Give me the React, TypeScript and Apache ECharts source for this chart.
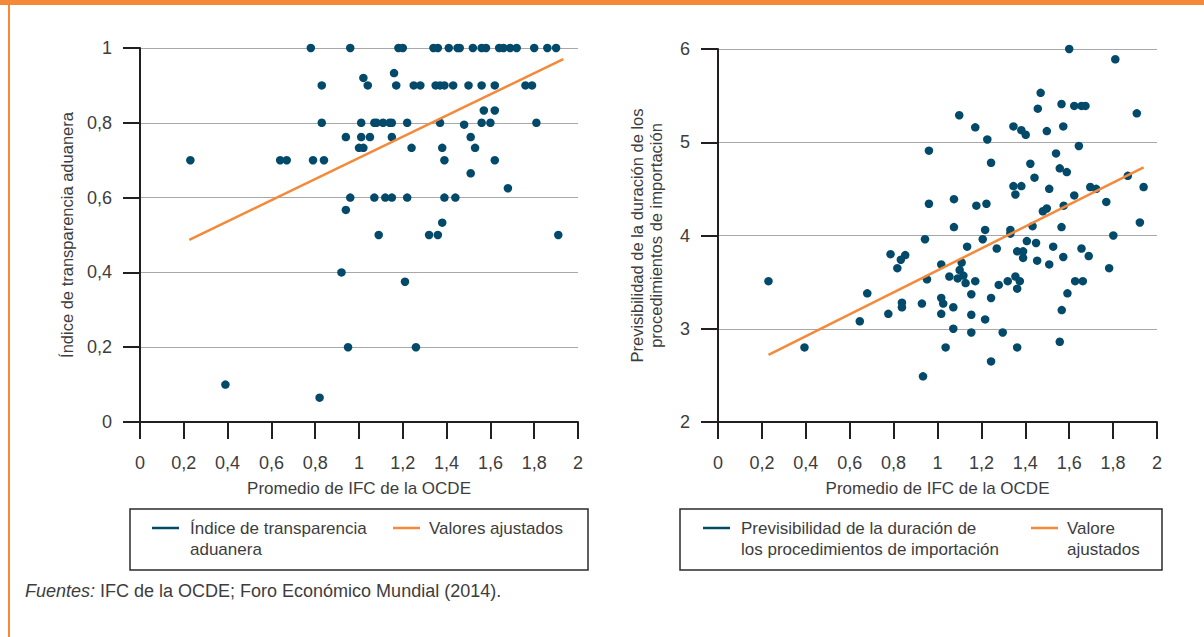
import React, { useEffect, useRef } from "react";
import * as echarts from "echarts";

const xTicksMin = 0;
const xTicksMax = 2;
const xTickStep = 0.2;

// Left chart: Índice de transparencia aduanera vs Promedio de IFC de la OCDE
const transparencyPoints: [number, number][] = [
  [0.78, 1], [0.96, 1], [1.18, 1], [1.2, 1], [1.34, 1], [1.36, 1], [1.41, 1], [1.45, 1], [1.46, 1], [1.52, 1],
  [1.56, 1], [1.58, 1], [1.64, 1], [1.66, 1], [1.69, 1], [1.72, 1], [1.8, 1], [1.86, 1], [1.9, 1],
  [1.16, 0.933], [1.02, 0.92],
  [0.83, 0.9], [1.04, 0.9], [1.17, 0.9], [1.25, 0.9], [1.28, 0.9], [1.35, 0.9], [1.37, 0.9], [1.39, 0.9],
  [1.43, 0.9], [1.5, 0.9], [1.56, 0.9], [1.62, 0.9], [1.76, 0.9], [1.79, 0.9],
  [1.57, 0.833], [1.62, 0.833],
  [0.83, 0.8], [1.01, 0.8], [1.07, 0.8], [1.08, 0.8], [1.11, 0.8], [1.14, 0.8], [1.15, 0.8], [1.22, 0.8],
  [1.37, 0.8], [1.56, 0.8], [1.6, 0.8], [1.81, 0.8], [1.48, 0.795],
  [0.94, 0.762], [1.01, 0.762], [1.05, 0.762], [1.15, 0.762], [1.51, 0.762],
  [1.0, 0.733], [1.02, 0.733], [1.24, 0.733], [1.38, 0.733], [1.53, 0.733],
  [0.23, 0.7], [0.64, 0.7], [0.67, 0.7], [0.79, 0.7], [0.84, 0.7], [1.39, 0.7], [1.62, 0.7],
  [1.51, 0.665], [1.68, 0.625],
  [0.96, 0.6], [1.07, 0.6], [1.12, 0.6], [1.15, 0.6], [1.22, 0.6], [1.39, 0.6], [1.44, 0.6],
  [0.94, 0.567], [1.38, 0.533],
  [1.09, 0.5], [1.32, 0.5], [1.36, 0.5], [1.91, 0.5],
  [0.92, 0.4], [1.21, 0.375], [0.95, 0.2], [1.26, 0.2], [0.39, 0.1], [0.82, 0.065],
];
const transparencyFit: [number, number][] = [[0.225, 0.487], [1.933, 0.97]];

// Right chart: Previsibilidad de la duración de los procedimientos de importación
const predictabilityPoints: [number, number][] = [
  [1.6, 6.0], [1.81, 5.89], [1.47, 5.53], [1.099, 5.29], [1.565, 5.41], [1.623, 5.39], [1.656, 5.39], [1.674, 5.39],
  [1.457, 5.36], [1.908, 5.31], [1.172, 5.16], [1.346, 5.17], [1.382, 5.13], [1.402, 5.08], [1.498, 5.12], [1.573, 5.17],
  [1.227, 5.03], [0.961, 4.91], [1.644, 4.96], [1.244, 4.78], [1.423, 4.77], [1.54, 4.88], [1.557, 4.72], [1.589, 4.68],
  [1.442, 4.62], [1.346, 4.53], [1.382, 4.53], [1.355, 4.44], [1.509, 4.5], [1.696, 4.52], [1.723, 4.5], [1.867, 4.64],
  [1.939, 4.52], [1.623, 4.43], [1.769, 4.36], [0.961, 4.34], [1.075, 4.39], [1.177, 4.32], [1.223, 4.34], [1.48, 4.26],
  [1.498, 4.29], [1.575, 4.32], [1.922, 4.14], [1.075, 4.09], [1.217, 4.06], [1.332, 4.06], [1.332, 4.02], [1.433, 4.1],
  [1.565, 4.09], [1.801, 4.0], [1.206, 3.96], [0.943, 3.96], [1.407, 3.94], [1.449, 3.92], [1.527, 3.88], [1.135, 3.88],
  [1.27, 3.86], [1.656, 3.86], [1.363, 3.83], [1.39, 3.83], [0.786, 3.8], [0.853, 3.79], [0.833, 3.74], [1.39, 3.76],
  [1.573, 3.77], [1.689, 3.78], [1.454, 3.73], [1.509, 3.69], [1.017, 3.69], [1.11, 3.71], [0.817, 3.65], [1.782, 3.65],
  [1.101, 3.63], [1.118, 3.57], [1.054, 3.56], [1.092, 3.54], [1.355, 3.56], [0.952, 3.53], [1.172, 3.51], [1.375, 3.51],
  [1.32, 3.51], [0.23, 3.51], [1.128, 3.49], [1.627, 3.51], [1.662, 3.51], [1.279, 3.47], [1.363, 3.43], [0.68, 3.38],
  [1.154, 3.37], [1.592, 3.38], [1.017, 3.33], [1.244, 3.33], [0.838, 3.28], [0.838, 3.23], [0.929, 3.27], [1.026, 3.27],
  [1.072, 3.23], [0.776, 3.16], [1.017, 3.16], [1.154, 3.15], [1.566, 3.2], [1.217, 3.1], [0.646, 3.08], [1.072, 3.0],
  [1.154, 2.96], [1.297, 2.96], [1.557, 2.86], [0.394, 2.8], [1.037, 2.8], [1.363, 2.8], [1.244, 2.65], [0.934, 2.49],
];
const predictabilityFit: [number, number][] = [[0.23, 2.72], [1.939, 4.73]];

const leftYMin = 0;
const leftYMax = 1;
const leftYStep = 0.2;
const rightYMin = 2;
const rightYMax = 6;
const rightYStep = 1;

const xAxisTitle = "Promedio de IFC de la OCDE";
const leftYTitle = "Índice de transparencia aduanera";
const rightYTitle = "Previsibilidad de la duración de los\nprocedimientos de importación";
const leftLegend = ["Índice de transparencia\naduanera", "Valores ajustados"];
const rightLegend = ["Previsibilidad de la duración de\nlos procedimientos de importación", "Valore\najustados"];
const footerLabel = "Fuentes:";
const footerText = " IFC de la OCDE; Foro Económico Mundial (2014).";

const DOT = "#034a6a";
const ORANGE = "#f5893a";
const AXIS = "#231f20";
const TEXT = "#3d3d3d";
const FONT = "'Liberation Sans', Arial, sans-serif";

const fmt = (v: number) => String(Math.round(v * 10) / 10).replace(".", ",");

function xAxisCfg(gridIndex: number) {
  return {
    gridIndex,
    type: "value",
    min: xTicksMin,
    max: xTicksMax,
    interval: xTickStep,
    name: xAxisTitle,
    nameLocation: "middle",
    nameGap: 58,
    nameTextStyle: { color: TEXT, fontSize: 17, fontFamily: FONT },
    axisLine: { show: true, onZero: false, lineStyle: { color: AXIS, width: 2 } },
    axisTick: { show: true, length: 17, lineStyle: { color: AXIS, width: 2 } },
    axisLabel: { color: TEXT, fontSize: 18, fontFamily: FONT, margin: 32, formatter: fmt },
    splitLine: { show: false },
  };
}

function yAxisCfg(gridIndex: number, min: number, max: number, step: number, name: string, gap: number) {
  return {
    gridIndex,
    type: "value",
    min,
    max,
    interval: step,
    name,
    nameLocation: "middle",
    nameGap: gap,
    nameTextStyle: { color: TEXT, fontSize: 16.5, fontFamily: FONT, lineHeight: 19 },
    axisLine: { show: true, onZero: false, lineStyle: { color: AXIS, width: 2 } },
    axisTick: { show: true, length: 17, lineStyle: { color: AXIS, width: 2 } },
    axisLabel: { color: TEXT, fontSize: 18, fontFamily: FONT, margin: 28, formatter: fmt },
    splitLine: { show: true, lineStyle: { color: "#a8a8a8", width: 1 } },
  };
}

function legendBox(x: number, w: number, lineA: number, textA: number, lineB: number, textB: number, labels: string[]) {
  const y = 509;
  return [
    { type: "rect", shape: { x, y, width: w, height: 61 }, style: { fill: "#fff", stroke: "#2b2b2b", lineWidth: 1.5 } },
    { type: "line", shape: { x1: lineA, y1: 528, x2: lineA + 27, y2: 528 }, style: { stroke: DOT, lineWidth: 2.5 } },
    { type: "text", x: textA, y: 518, style: { text: labels[0], fill: TEXT, font: `17px ${FONT}`, lineHeight: 21 } },
    { type: "line", shape: { x1: lineB, y1: 528, x2: lineB + 27, y2: 528 }, style: { stroke: ORANGE, lineWidth: 2.5 } },
    { type: "text", x: textB, y: 518, style: { text: labels[1], fill: TEXT, font: `17px ${FONT}`, lineHeight: 21 } },
  ];
}

export default function App() {
  const ref = useRef<HTMLDivElement>(null);
  useEffect(() => {
    if (!ref.current) return;
    const chart = echarts.init(ref.current, undefined, { renderer: "svg" });
    chart.setOption({
      animation: false,
      backgroundColor: "#fff",
      textStyle: { fontFamily: FONT },
      grid: [
        { left: 140, top: 48, width: 438, height: 374 },
        { left: 718, top: 49, width: 439, height: 373 },
      ],
      xAxis: [xAxisCfg(0), xAxisCfg(1)],
      yAxis: [
        yAxisCfg(0, leftYMin, leftYMax, leftYStep, leftYTitle, 64),
        yAxisCfg(1, rightYMin, rightYMax, rightYStep, rightYTitle, 53),
      ],
      series: [
        {
          name: "Índice de transparencia aduanera",
          type: "scatter",
          xAxisIndex: 0,
          yAxisIndex: 0,
          data: transparencyPoints,
          symbolSize: 8.5,
          itemStyle: { color: DOT, opacity: 1 },
          z: 3,
        },
        {
          name: "Valores ajustados",
          type: "line",
          xAxisIndex: 0,
          yAxisIndex: 0,
          data: transparencyFit,
          showSymbol: false,
          lineStyle: { color: ORANGE, width: 2.5 },
          z: 4,
        },
        {
          name: "Previsibilidad de la duración de los procedimientos de importación",
          type: "scatter",
          xAxisIndex: 1,
          yAxisIndex: 1,
          data: predictabilityPoints,
          symbolSize: 8.5,
          itemStyle: { color: DOT, opacity: 1 },
          z: 3,
        },
        {
          name: "Valore ajustados",
          type: "line",
          xAxisIndex: 1,
          yAxisIndex: 1,
          data: predictabilityFit,
          showSymbol: false,
          lineStyle: { color: ORANGE, width: 2.5 },
          z: 4,
        },
      ],
      graphic: [
        { type: "rect", shape: { x: 0, y: 0, width: 1204, height: 5 }, style: { fill: ORANGE } },
        { type: "rect", shape: { x: 8, y: 0, width: 2, height: 637 }, style: { fill: ORANGE } },
        ...legendBox(130, 458, 152, 190, 393, 429, leftLegend),
        ...legendBox(680, 482, 703, 741, 1031, 1067, rightLegend),
        {
          type: "text",
          x: 25,
          y: 582,
          style: {
            text: `{i|${footerLabel}}{n|${footerText}}`,
            rich: {
              i: { fontStyle: "italic", fontSize: 18, fontFamily: FONT, fill: TEXT },
              n: { fontSize: 18, fontFamily: FONT, fill: TEXT },
            },
          },
        },
      ],
    });
    return () => chart.dispose();
  }, []);
  return (
    <div
      ref={ref}
      style={{ position: "absolute", left: 0, top: 0, width: 1204, height: 637, background: "#fff" }}
    />
  );
}
